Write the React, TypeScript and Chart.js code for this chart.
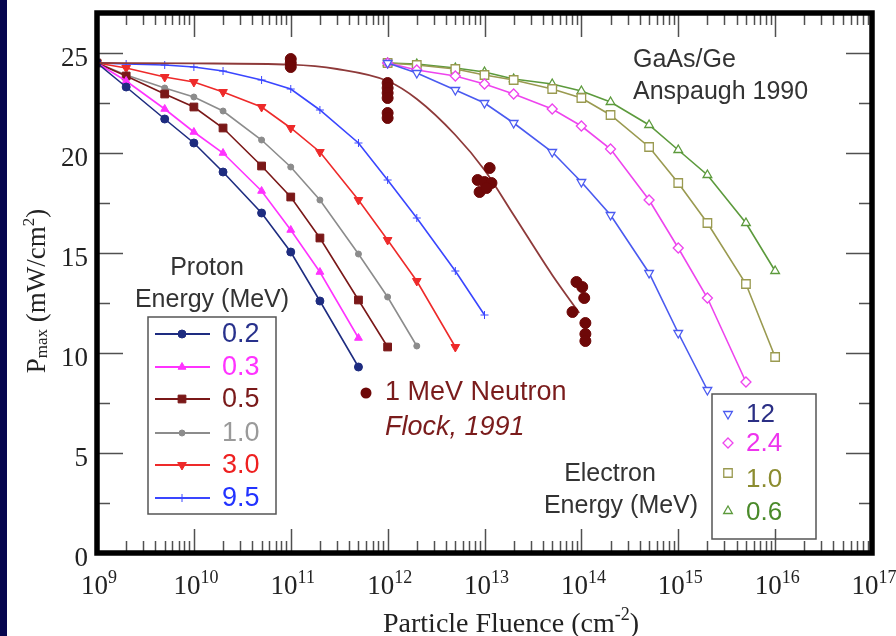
import React, { useEffect, useRef } from 'react';
import { Chart, registerables } from 'chart.js';

Chart.register(...registerables);

// Fluence grids (cm^-2) shared by the measured curves
const PROTON_FLUENCE = [1e9, 2e9, 5e9, 1e10, 2e10, 5e10, 1e11, 2e11, 5e11, 1e12, 2e12, 5e12, 1e13];
const ELECTRON_FLUENCE = [1e12, 2e12, 5e12, 1e13, 2e13, 5e13, 1e14, 2e14, 5e14, 1e15, 2e15, 5e15, 1e16];

// Pmax (mW/cm^2) after proton irradiation, by proton energy (MeV)
const PROTON_0_2 = [24.5, 23.3, 21.7, 20.5, 19.05, 17.0, 15.05, 12.6, 9.3];
const PROTON_0_3 = [24.5, 23.6, 22.2, 21.05, 20.0, 18.1, 16.15, 14.05, 10.75];
const PROTON_0_5 = [24.5, 23.85, 22.95, 22.3, 21.25, 19.35, 17.8, 15.75, 12.65, 10.3];
const PROTON_1_0 = [24.5, 23.9, 23.25, 22.8, 22.1, 20.65, 19.3, 17.65, 14.95, 12.8, 10.35];
const PROTON_3_0 = [24.5, 24.25, 23.8, 23.55, 23.05, 22.3, 21.25, 20.05, 17.65, 15.65, 13.6, 10.3];
const PROTON_9_5 = [24.5, 24.45, 24.4, 24.3, 24.1, 23.65, 23.2, 22.15, 20.5, 18.65, 16.75, 14.1, 11.9];

// Pmax (mW/cm^2) after electron irradiation, by electron energy (MeV)
const ELECTRON_12 = [24.5, 24.0, 23.15, 22.5, 21.5, 20.05, 18.55, 16.9, 14.0, 11.0, 8.15];
const ELECTRON_2_4 = [24.5, 24.15, 23.85, 23.45, 22.95, 22.2, 21.35, 20.2, 17.65, 15.25, 12.75, 8.55];
const ELECTRON_1_0 = [24.5, 24.4, 24.2, 23.9, 23.65, 23.2, 22.75, 21.9, 20.3, 18.5, 16.5, 13.45, 9.8];
const ELECTRON_0_6 = [24.5, 24.45, 24.25, 24.05, 23.7, 23.45, 23.1, 22.55, 21.4, 20.15, 18.9, 16.5, 14.1];

// 1 MeV neutron measurements (Flock, 1991)
const NEUTRON_FLUENCE = [
  1e11, 1e11, 1e11,
  1e12, 1e12, 1e12, 1e12, 1e12, 1e12,
  1.13e13, 8.5e12, 1.0e13, 1.18e13, 8.9e12, 1.05e13,
  8.9e13, 1.02e14, 1.07e14, 8.1e13, 1.1e14, 1.1e14, 1.1e14,
];
const NEUTRON_PMAX = [
  24.7, 24.5, 24.3,
  23.5, 23.25, 23.0, 22.75, 22.0, 21.75,
  19.25, 18.65, 18.55, 18.5, 18.05, 18.25,
  13.55, 13.3, 12.75, 12.05, 11.5, 10.95, 10.6,
];

// Smooth guide curve through the neutron data
const NEUTRON_FIT_FLUENCE = [1e9, 1e10, 1e11, 3e11, 1e12, 2e12, 5e12, 1e13, 2e13, 5e13, 9.5e13];
const NEUTRON_FIT_PMAX = [24.5, 24.48, 24.42, 24.2, 23.6, 22.7, 20.9, 19.15, 16.9, 13.9, 12.0];

// Axis ticks
const FLUENCE_EXPONENTS = [9, 10, 11, 12, 13, 14, 15, 16, 17];
const PMAX_TICKS = [0, 5, 10, 15, 20, 25];

const PROTON_LEGEND = ['0.2', '0.3', '0.5', '1.0', '3.0', '9.5'];
const ELECTRON_LEGEND = ['12', '2.4', '1.0', '0.6'];

const SANS = '"Liberation Sans", Arial, Helvetica, sans-serif';
const SERIF = '"Liberation Serif", "Times New Roman", serif';

type Style = {
  line: string;
  text: string;
  point: string;
  radius: number;
  rotation?: number;
  open?: boolean;
};

const PROTON_STYLES: Style[] = [
  { line: '#1e2c80', text: '#28318c', point: 'circle', radius: 4 },
  { line: '#ff33ff', text: '#ff33ff', point: 'triangle', radius: 4.5 },
  { line: '#7a1818', text: '#7a1a1a', point: 'rect', radius: 5.5 },
  { line: '#8c8c8c', text: '#9a9a9a', point: 'circle', radius: 3 },
  { line: '#ee2a2a', text: '#ee2020', point: 'triangle', radius: 5, rotation: 180 },
  { line: '#3a46ff', text: '#2233ff', point: 'cross', radius: 4 },
];

const ELECTRON_STYLES: Style[] = [
  { line: '#4a5af0', text: '#2b2f85', point: 'triangle', radius: 5, rotation: 180, open: true },
  { line: '#ee44ee', text: '#ee33ee', point: 'rectRot', radius: 5, open: true },
  { line: '#9a9a50', text: '#8c8c30', point: 'rect', radius: 6, open: true },
  { line: '#5c9a3c', text: '#4a8a2a', point: 'triangle', radius: 5, open: true },
];

const NEUTRON_DOT = '#6e0808';
const NEUTRON_LINE = '#8e3a3a';
const NEUTRON_TEXT = '#7a1c1c';

const pairs = (xs: number[], ys: number[]) => ys.map((y, i) => ({ x: xs[i], y }));

function seriesDataset(label: string, xs: number[], ys: number[], s: Style) {
  return {
    label,
    data: pairs(xs, ys),
    borderColor: s.line,
    backgroundColor: s.open ? '#ffffff' : s.line,
    borderWidth: 1.6,
    pointStyle: s.point,
    pointRadius: s.radius,
    pointRotation: s.rotation || 0,
    pointBackgroundColor: s.open ? '#ffffff' : s.line,
    pointBorderColor: s.line,
    pointBorderWidth: s.open ? 1.3 : 1,
    tension: 0,
    fill: false,
  };
}

// Marker glyph used in the hand-drawn legend boxes
function drawMarker(ctx: CanvasRenderingContext2D, s: Style, x: number, y: number) {
  const r = s.radius;
  ctx.save();
  ctx.translate(x, y);
  ctx.rotate(((s.rotation || 0) * Math.PI) / 180);
  ctx.beginPath();
  if (s.point === 'circle') {
    ctx.arc(0, 0, r, 0, Math.PI * 2);
  } else if (s.point === 'triangle') {
    for (let k = 0; k < 3; k++) {
      const a = (k * 2 * Math.PI) / 3;
      const px = Math.sin(a) * r;
      const py = -Math.cos(a) * r;
      if (k === 0) ctx.moveTo(px, py);
      else ctx.lineTo(px, py);
    }
    ctx.closePath();
  } else if (s.point === 'rect') {
    const h = r * Math.SQRT1_2;
    ctx.rect(-h, -h, 2 * h, 2 * h);
  } else if (s.point === 'rectRot') {
    ctx.moveTo(0, -r);
    ctx.lineTo(r, 0);
    ctx.lineTo(0, r);
    ctx.lineTo(-r, 0);
    ctx.closePath();
  } else if (s.point === 'cross') {
    ctx.moveTo(0, -r);
    ctx.lineTo(0, r);
    ctx.moveTo(-r, 0);
    ctx.lineTo(r, 0);
  }
  ctx.lineWidth = s.open ? 1.3 : 1;
  ctx.strokeStyle = s.line;
  if (s.point !== 'cross') {
    ctx.fillStyle = s.open ? '#ffffff' : s.line;
    ctx.fill();
  }
  ctx.stroke();
  ctx.restore();
}

// Writes a sequence of text runs, each with its own size and vertical shift
function drawScripted(
  ctx: CanvasRenderingContext2D,
  parts: { text: string; size: number; shift: number }[],
  family: string,
  cx: number,
  baseline: number,
) {
  let total = 0;
  const widths = parts.map((p) => {
    ctx.font = `${p.size}px ${family}`;
    const w = ctx.measureText(p.text).width;
    total += w;
    return w;
  });
  let x = cx - total / 2;
  ctx.textAlign = 'left';
  ctx.textBaseline = 'alphabetic';
  parts.forEach((p, i) => {
    ctx.font = `${p.size}px ${family}`;
    ctx.fillText(p.text, x, baseline + p.shift);
    x += widths[i];
  });
}

const decorations = {
  id: 'decorations',
  beforeDraw(chart: any) {
    const ctx: CanvasRenderingContext2D = chart.ctx;
    ctx.save();
    ctx.fillStyle = '#ffffff';
    ctx.fillRect(0, 0, chart.width, chart.height);
    ctx.fillStyle = '#06064e';
    ctx.fillRect(0, 0, 7, chart.height);
    ctx.restore();
  },
  afterDraw(chart: any) {
    const ctx: CanvasRenderingContext2D = chart.ctx;
    const xs = chart.scales.x;
    const ys = chart.scales.y;
    const { left, right, top, bottom } = chart.chartArea;
    ctx.save();

    // tick marks on all four sides, pointing inwards
    ctx.strokeStyle = '#505050';
    ctx.lineWidth = 1.5;
    ctx.beginPath();
    FLUENCE_EXPONENTS.forEach((e) => {
      for (let k = 1; k <= 9; k++) {
        if (e === FLUENCE_EXPONENTS[FLUENCE_EXPONENTS.length - 1] && k > 1) break;
        const px = Math.round(xs.getPixelForValue(k * Math.pow(10, e))) + 0.5;
        const len = k === 1 ? 24 : 12;
        ctx.moveTo(px, bottom);
        ctx.lineTo(px, bottom - len);
        ctx.moveTo(px, top);
        ctx.lineTo(px, top + len);
      }
    });
    for (let v = 0; v <= 27; v += 2.5) {
      const py = Math.round(ys.getPixelForValue(v)) + 0.5;
      const len = v % 5 === 0 ? 26 : 13;
      ctx.moveTo(left, py);
      ctx.lineTo(left + len, py);
      ctx.moveTo(right, py);
      ctx.lineTo(right - len, py);
    }
    ctx.stroke();

    // heavy frame
    ctx.strokeStyle = '#000000';
    ctx.lineWidth = 5.5;
    ctx.strokeRect(left, top, right - left, bottom - top);

    // y tick labels
    ctx.fillStyle = '#222222';
    ctx.font = `27px ${SERIF}`;
    ctx.textAlign = 'right';
    ctx.textBaseline = 'middle';
    PMAX_TICKS.forEach((v) => {
      ctx.fillText(String(v), 88, ys.getPixelForValue(v) + 6);
    });

    // x tick labels as powers of ten
    FLUENCE_EXPONENTS.forEach((e) => {
      const px = xs.getPixelForValue(Math.pow(10, e));
      drawScripted(
        ctx,
        [
          { text: '10', size: 27, shift: 0 },
          { text: String(e), size: 18, shift: -11 },
        ],
        SERIF,
        px + 2,
        594,
      );
    });

    // axis titles
    drawScripted(
      ctx,
      [
        { text: 'Particle Fluence (cm', size: 28, shift: 0 },
        { text: '-2', size: 18, shift: -12 },
        { text: ')', size: 28, shift: 0 },
      ],
      SERIF,
      511,
      632,
    );
    ctx.save();
    ctx.translate(45, 291);
    ctx.rotate(-Math.PI / 2);
    drawScripted(
      ctx,
      [
        { text: 'P', size: 27, shift: 0 },
        { text: 'max', size: 17, shift: 2 },
        { text: ' (mW/cm', size: 27, shift: 0 },
        { text: '2', size: 17, shift: -11 },
        { text: ')', size: 27, shift: 0 },
      ],
      SERIF,
      0,
      0,
    );
    ctx.restore();

    // annotations
    ctx.textBaseline = 'middle';
    ctx.fillStyle = '#333333';
    ctx.font = `25px ${SANS}`;
    ctx.textAlign = 'left';
    ctx.fillText('GaAs/Ge', 633, 60);
    ctx.fillText('Anspaugh 1990', 633, 92);

    ctx.textAlign = 'center';
    ctx.fillText('Proton', 207, 268);
    ctx.fillText('Energy (MeV)', 212, 300);
    ctx.fillText('Electron', 610, 474);
    ctx.fillText('Energy (MeV)', 621, 506);

    // neutron key
    ctx.fillStyle = NEUTRON_DOT;
    ctx.beginPath();
    ctx.arc(366, 393, 5.5, 0, Math.PI * 2);
    ctx.fill();
    ctx.fillStyle = NEUTRON_TEXT;
    ctx.textAlign = 'left';
    ctx.font = `27px ${SANS}`;
    ctx.fillText('1 MeV Neutron', 385, 393);
    ctx.font = `italic 27px ${SANS}`;
    ctx.fillText('Flock, 1991', 385, 427);

    // proton legend box
    ctx.strokeStyle = '#555555';
    ctx.lineWidth = 1.5;
    ctx.strokeRect(148, 317, 128, 197);
    const protonRows = [334, 367, 399, 433, 465, 498];
    PROTON_LEGEND.forEach((lab, i) => {
      const s = PROTON_STYLES[i];
      const y = protonRows[i];
      ctx.strokeStyle = s.line;
      ctx.lineWidth = 2;
      ctx.beginPath();
      ctx.moveTo(155, y);
      ctx.lineTo(210, y);
      ctx.stroke();
      drawMarker(ctx, s, 182, y);
      ctx.fillStyle = s.text;
      ctx.font = `27px ${SANS}`;
      ctx.textAlign = 'left';
      ctx.textBaseline = 'middle';
      ctx.fillText(lab, 222, y + 1);
    });

    // electron legend box
    ctx.strokeStyle = '#555555';
    ctx.lineWidth = 1.5;
    ctx.strokeRect(712, 394, 104, 145);
    const electronRows = [414, 443, 479, 512];
    const electronMarkRows = [414, 443, 473, 511];
    ELECTRON_LEGEND.forEach((lab, i) => {
      const s = ELECTRON_STYLES[i];
      drawMarker(ctx, s, 728, electronMarkRows[i]);
      ctx.fillStyle = s.text;
      ctx.font = `26px ${SANS}`;
      ctx.textAlign = 'left';
      ctx.textBaseline = 'middle';
      ctx.fillText(lab, 746, electronRows[i] + 1);
    });

    ctx.restore();
  },
};

export default function App() {
  const canvasRef = useRef<HTMLCanvasElement | null>(null);

  useEffect(() => {
    const canvas = canvasRef.current;
    if (!canvas) return;

    const datasets: any[] = [
      {
        label: '1 MeV Neutron',
        data: pairs(NEUTRON_FLUENCE, NEUTRON_PMAX),
        showLine: false,
        pointStyle: 'circle',
        pointRadius: 5.5,
        pointBackgroundColor: NEUTRON_DOT,
        pointBorderColor: NEUTRON_DOT,
        borderColor: NEUTRON_DOT,
        backgroundColor: NEUTRON_DOT,
      },
      {
        label: 'Neutron trend',
        data: pairs(NEUTRON_FIT_FLUENCE, NEUTRON_FIT_PMAX),
        borderColor: NEUTRON_LINE,
        borderWidth: 1.8,
        pointRadius: 0,
        cubicInterpolationMode: 'monotone',
        fill: false,
      },
      seriesDataset('p 0.2', PROTON_FLUENCE, PROTON_0_2, PROTON_STYLES[0]),
      seriesDataset('p 0.3', PROTON_FLUENCE, PROTON_0_3, PROTON_STYLES[1]),
      seriesDataset('p 0.5', PROTON_FLUENCE, PROTON_0_5, PROTON_STYLES[2]),
      seriesDataset('p 1.0', PROTON_FLUENCE, PROTON_1_0, PROTON_STYLES[3]),
      seriesDataset('p 3.0', PROTON_FLUENCE, PROTON_3_0, PROTON_STYLES[4]),
      seriesDataset('p 9.5', PROTON_FLUENCE, PROTON_9_5, PROTON_STYLES[5]),
      seriesDataset('e 12', ELECTRON_FLUENCE, ELECTRON_12, ELECTRON_STYLES[0]),
      seriesDataset('e 2.4', ELECTRON_FLUENCE, ELECTRON_2_4, ELECTRON_STYLES[1]),
      seriesDataset('e 1.0', ELECTRON_FLUENCE, ELECTRON_1_0, ELECTRON_STYLES[2]),
      seriesDataset('e 0.6', ELECTRON_FLUENCE, ELECTRON_0_6, ELECTRON_STYLES[3]),
    ];

    const chart = new Chart(canvas, {
      type: 'line',
      data: { datasets },
      options: {
        animation: false,
        responsive: false,
        devicePixelRatio: 1,
        layout: { padding: { left: 97, right: 24, top: 13, bottom: 83 } },
        plugins: {
          legend: { display: false },
          tooltip: { enabled: false },
        },
        scales: {
          x: { type: 'logarithmic', min: 1e9, max: 1e17, display: false },
          y: { type: 'linear', min: 0, max: 27, display: false },
        },
      },
      plugins: [decorations],
    } as any);

    return () => chart.destroy();
  }, []);

  return (
    <div style={{ position: 'fixed', left: 0, top: 0, width: 896, height: 636, background: '#ffffff' }}>
      <canvas ref={canvasRef} width={896} height={636} style={{ width: 896, height: 636, display: 'block' }} />
    </div>
  );
}
